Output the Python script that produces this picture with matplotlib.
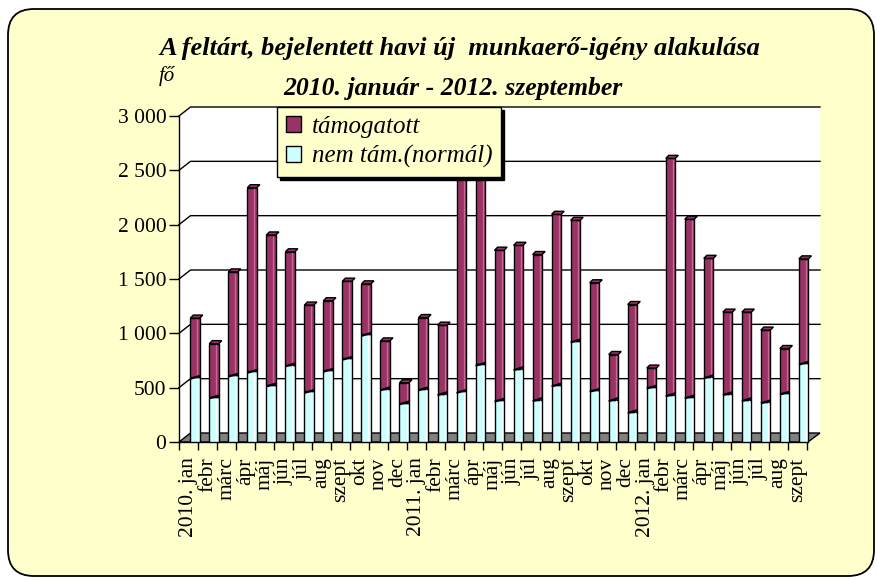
import numpy as np
import matplotlib
matplotlib.use("Agg")
import matplotlib.pyplot as plt
from matplotlib.patches import FancyBboxPatch, Polygon

# months shown on the category axis
months = ["2010. jan", "febr", "márc", "ápr", "máj", "jún", "júl", "aug", "szept", "okt",
          "nov", "dec", "2011. jan", "febr", "márc", "ápr", "máj", "jún", "júl", "aug",
          "szept", "okt", "nov", "dec", "2012. jan", "febr", "márc", "ápr", "máj", "jún",
          "júl", "aug", "szept"]

# totals (read from bar tops) and the non-subsidised part
total = [1140, 905, 1565, 2340, 1905, 1750, 1260, 1300, 1480, 1455,
         930, 545, 1145, 1075, 2950, 2850, 1765, 1810, 1725, 2095,
         2040, 1465, 805, 1265, 680, 2610, 2050, 1690, 1195, 1195,
         1030, 860, 1685]
normal = [595, 415, 615, 650, 525, 710, 465, 660, 770, 990,
          490, 360, 490, 445, 465, 715, 385, 675, 390, 525,
          930, 475, 390, 280, 505, 435, 415, 600, 445, 390,
          370, 450, 725]
supported = [t - n for t, n in zip(total, normal)]

PLUM = "#993366"
CYAN = "#CCFFFF"
CREAM = "#FFFFCC"
SERIF = ["Liberation Serif", "DejaVu Serif"]

W, H = 878, 580
fig = plt.figure(figsize=(W / 100, H / 100), dpi=100)
fig.patch.set_facecolor("white")

# rounded cream background drawn in pixel coordinates
bg = fig.add_axes([0, 0, 1, 1])
bg.set_xlim(0, W)
bg.set_ylim(H, 0)
bg.axis("off")
bg.add_patch(FancyBboxPatch((8, 9), 866, 567, boxstyle="round,pad=0,rounding_size=26",
                            facecolor=CREAM, edgecolor="black", lw=1.3))

# main plot area
left_px, right_px, bot_px, top_px = 179, 820, 442, 107
ax = fig.add_axes([left_px / W, 1 - bot_px / H, (right_px - left_px) / W, (bot_px - top_px) / H])
ax.set_facecolor("none")

step_px = 19.02
k = (bot_px - 116) / 3000.0          # px per unit
dy = 9 / k                            # depth offset in data units
dx = 11.5 / step_px
x0 = (left_px - 195) / step_px
xmax = (right_px - 195) / step_px
xf = (808 - 195) / step_px
ytop = 3000 + dy
ax.set_xlim(x0, xmax)
ax.set_ylim(0, ytop)

# walls and floor
ax.add_patch(Polygon([(x0 + dx, dy), (xmax, dy), (xmax, ytop), (x0 + dx, ytop)],
                     facecolor="white", edgecolor="none", zorder=0))
ax.add_patch(Polygon([(x0, 0), (x0 + dx, dy), (x0 + dx, ytop), (x0, 3000)],
                     facecolor="white", edgecolor="none", zorder=0))
ax.add_patch(Polygon([(x0, 0), (xf, 0), (xmax, dy), (x0 + dx, dy)],
                     facecolor="#808080", edgecolor="black", lw=1, zorder=1, clip_on=False))
for v in range(500, 3001, 500):
    ax.plot([x0, x0 + dx, xmax], [v, v + dy, v + dy], color="black", lw=1, zorder=1,
            clip_on=False)

# bars
idx = np.arange(len(months))
bw = 0.5
ax.bar(idx, normal, width=bw, color=CYAN, edgecolor="black", lw=1, zorder=3,
       label="nem tám.(normál)")
ax.bar(idx, supported, bottom=normal, width=bw, color=PLUM, edgecolor="black", lw=1,
       zorder=3, label="támogatott")
cx, cy = 0.16, 28
for i, (t, n) in enumerate(zip(total, normal)):
    ax.plot([i + 0.12, i + 0.12], [n + 15, t - 15], color="#CC6699", lw=1, zorder=4)
    ax.plot([i + 0.12, i + 0.12], [15, n - 15], color="white", lw=1, zorder=4)
    ax.add_patch(Polygon([(i - bw / 2, t), (i - bw / 2 + cx, t + cy),
                          (i + bw / 2 + cx, t + cy), (i + bw / 2, t)],
                         facecolor=PLUM, edgecolor="black", lw=1, zorder=4))
    ax.add_patch(Polygon([(i - bw / 2, n - cy / 2), (i + bw / 2, n + cy / 2)],
                         closed=False, fill=False, edgecolor="black", lw=1.5, zorder=4))

# axes styling
for s in ["top", "right", "bottom"]:
    ax.spines[s].set_visible(False)
ax.spines["left"].set_bounds(0, 3000)
ax.spines["left"].set_linewidth(1)
ax.set_yticks(range(0, 3001, 500))
ax.set_yticklabels([f"{v:,}".replace(",", " ") for v in range(0, 3001, 500)],
                   fontfamily=SERIF, fontsize=15.5)
ax.tick_params(axis="y", length=7, width=1, pad=2)

ax.set_xticks(idx - 0.34)
ax.set_xticklabels(months, rotation=90, fontfamily=SERIF, fontsize=15.5, va="top")
ax.tick_params(axis="x", length=0, pad=11)
ax.set_xticks(np.arange(len(months) + 1) + x0, minor=True)
ax.tick_params(axis="x", which="minor", length=6, width=1)
ax.plot([x0, xf], [0, 0], color="black", lw=1, zorder=2, clip_on=False)

# legend
h, l = ax.get_legend_handles_labels()
leg = ax.legend(h[::-1], l[::-1], loc="upper left", bbox_to_anchor=(98 / 641, 1.0),
                prop={"family": SERIF, "style": "italic", "size": 18},
                frameon=True, fancybox=False, shadow={"color": "black", "alpha": 1},
                handlelength=0.6, handleheight=0.6, handletextpad=0.45,
                borderpad=0.35, labelspacing=0.3, borderaxespad=0)
leg.get_frame().set_facecolor(CREAM)
leg.get_frame().set_edgecolor("black")
leg.get_frame().set_linewidth(1)
leg.set_zorder(10)

# titles
fig.text(460 / W, 1 - 48 / H, "A feltárt, bejelentett havi új  munkaerő-igény alakulása",
         ha="center", va="center", fontfamily=SERIF, fontweight="bold", style="italic",
         fontsize=19)
fig.text(453 / W, 1 - 89 / H, "2010. január - 2012. szeptember",
         ha="center", va="center", fontfamily=SERIF, fontweight="bold", style="italic",
         fontsize=18.5)
fig.text(167 / W, 1 - 76 / H, "fő", ha="center", va="center", fontfamily=SERIF,
         style="italic", fontsize=15)

fig.savefig("out.png", dpi=100)
